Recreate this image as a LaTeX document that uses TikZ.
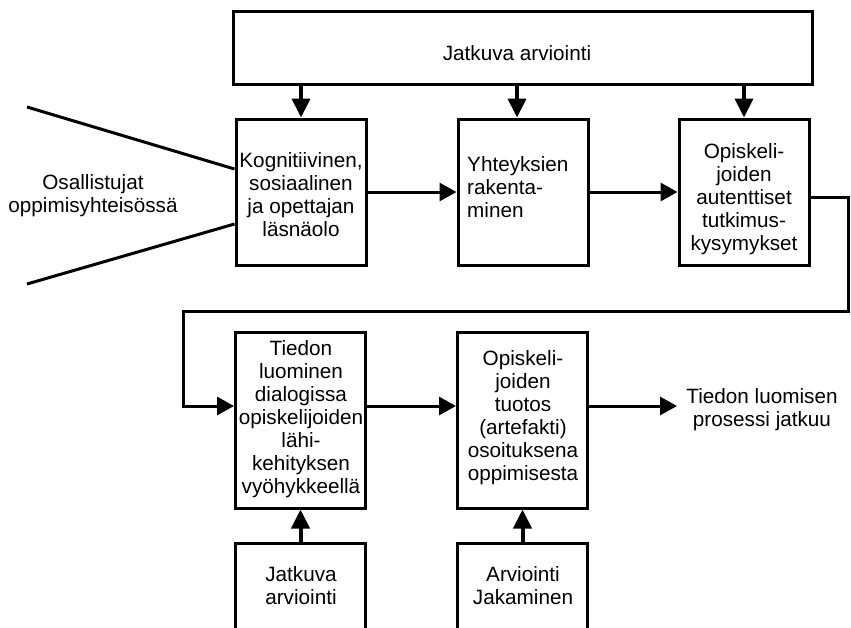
\documentclass[tikz,border=0pt]{standalone}
\usepackage{fontspec}
\setmainfont{Liberation Sans}
\usetikzlibrary{arrows.meta,calc}
\begin{document}
\begin{tikzpicture}[x=1pt,y=-1pt,
  box/.style={draw,line width=3pt,inner sep=0pt,minimum width=130pt},
  txt/.style={font=\fontsize{20.7}{23}\selectfont,align=center,inner sep=0pt},
  flow/.style={line width=3pt,-{Triangle[length=17pt,width=18pt]}},
  feed/.style={line width=4pt,-{Triangle[length=19pt,width=18pt]}},
  plain/.style={line width=3pt}]
\useasboundingbox (0,0) rectangle (851,627);
\clip (0,0) rectangle (851,627);

% boxes
\node[box,minimum width=579pt,minimum height=73pt] (top) at (522.5,47.5) {};
\node[box,minimum height=146pt] (b1) at (301,192) {};
\node[box,minimum height=146pt] (b2) at (523,192) {};
\node[box,minimum height=146pt] (b3) at (744,192) {};
\node[box,minimum height=176pt] (b4) at (300.5,420) {};
\node[box,minimum height=176pt] (b5) at (522.5,420) {};
\node[box,minimum height=120pt] (c1) at (300.5,603) {};
\node[box,minimum height=120pt] (c2) at (522.5,603) {};

% texts
\node[txt] (ttop) at (517,53) {Jatkuva arviointi};
\node[txt] (t1) at (301,195) {Kognitiivinen,\\sosiaalinen\\ja opettajan\\läsnäolo};
\node[txt,align=left,anchor=west] (t2) at (467,187) {Yhteyksien\\rakenta-\\minen};
\node[txt] (t3) at (744,199) {Opiskeli-\\joiden\\autenttiset\\tutkimus-\\kysymykset};
\node[txt] (t4) at (301,419) {Tiedon\\luominen\\dialogissa\\opiskelijoiden\\lähi-\\kehityksen\\vyöhykkeellä};
\node[txt] (t5) at (523,418) {Opiskeli-\\joiden\\tuotos\\(artefakti)\\osoituksena\\oppimisesta};
\node[txt] (tc1) at (301,586) {Jatkuva\\arviointi};
\node[txt] (tc2) at (523,586) {Arviointi\\Jakaminen};
\node[txt] (tin) at (93,196) {Osallistujat\\oppimisyhteisössä};
\node[txt] (tout) at (762,410) {Tiedon luomisen\\prosessi jatkuu};

% helper points
\coordinate (in1) at (27,107);
\coordinate (in2) at (27,284);
\coordinate (a2) at (517,84);
\coordinate (r1) at (848.5,197);
\coordinate (r2) at (848.5,311);
\coordinate (l1) at (183,311);
\coordinate (l2) at (183,406);
\coordinate (outend) at (677,406);

% participants entering the first stage
\draw[plain] (in1) -- ($(b1.west)+(0,-23)$);
\draw[plain] (in2) -- ($(b1.west)+(0,32)$);

% continuous assessment feeding the upper stages
\draw[feed] (b1.north |- top.south) -- (b1.north);
\draw[feed] (a2) -- (a2 |- b2.north);
\draw[feed] (b3.north |- top.south) -- (b3.north);

% main flow
\draw[flow] (b1.east) -- (b2.west);
\draw[flow] (b2.east) -- (b3.west);
\draw[flow] (b3.east |- r1) -- (r1) -- (r2) -- (l1) -- (l2) -- (b4.west |- l2);
\draw[flow] (b4.east |- l2) -- (b5.west |- l2);
\draw[flow] (b5.east |- l2) -- (outend);

% lower inputs
\draw[feed] (c1.north) -- (b4.south);
\draw[feed] (c2.north) -- (b5.south);
\end{tikzpicture}
\end{document}
